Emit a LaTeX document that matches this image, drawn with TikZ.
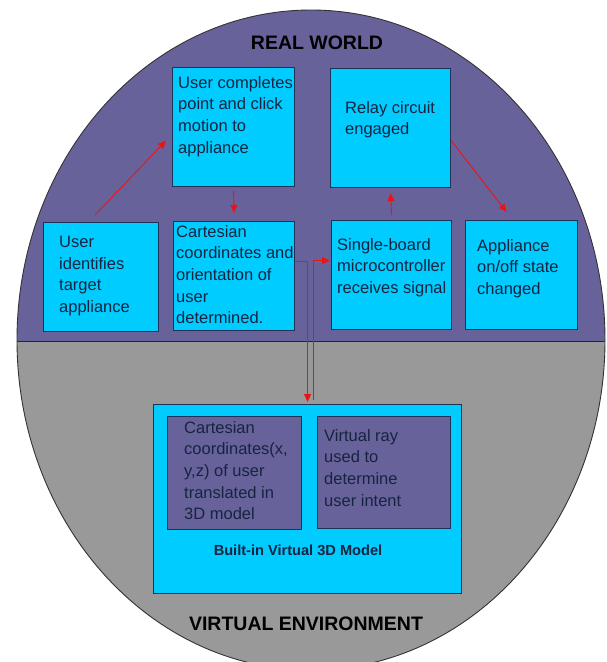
\documentclass[tikz,border=0pt]{standalone}
\usepackage{fontspec}
\setmainfont{Liberation Sans}
\usetikzlibrary{arrows.meta}
\definecolor{worldpurple}{RGB}{104,98,154}
\definecolor{envgray}{RGB}{153,153,153}
\definecolor{boxcyan}{RGB}{0,204,255}
\definecolor{boxedge}{RGB}{28,50,88}
\definecolor{txt}{RGB}{22,36,64}
\definecolor{arrred}{RGB}{235,20,20}
\tikzset{
  stepbox/.style={draw=boxedge, line width=1.2pt, fill=boxcyan, anchor=north west, inner sep=0pt},
  innerbox/.style={draw=boxedge, line width=1.2pt, fill=worldpurple, anchor=north west, inner sep=0pt},
  body/.style={anchor=north west, inner sep=0pt, align=left, text=txt,
    font=\fontsize{16.5pt}{21.7pt}\selectfont},
  title/.style={inner sep=0pt, font=\bfseries\fontsize{19.5pt}{22pt}\selectfont, text=black},
  arr/.style={draw=arrred, line width=0.9pt, -{Triangle[length=8pt,width=7pt]}},
}
\begin{document}
\begin{tikzpicture}[x=1pt,y=-1pt]
\clip (0,0) rectangle (606,662);
\fill[white] (0,0) rectangle (606,662);
% ellipse halves
\begin{scope}
  \clip (311,340) ellipse [x radius=294, y radius=330];
  \fill[worldpurple] (0,0) rectangle (606,341);
  \fill[envgray] (0,341) rectangle (606,700);
  \draw[boxedge!80!black, line width=1pt] (0,341) -- (606,341);
\end{scope}
\draw[black!80, line width=0.9pt] (311,340) ellipse [x radius=294, y radius=330];

% titles
\node[title] (rw) at (317,43) {REAL WORLD};
\node[title] (ve) at (306,624) {VIRTUAL ENVIRONMENT};

% real world boxes
\node[stepbox, minimum width=115pt, minimum height=109pt] (b1) at (43,222) {};
\node[stepbox, minimum width=122pt, minimum height=119pt] (b2) at (172,67) {};
\node[stepbox, minimum width=121pt, minimum height=109pt] (b3) at (173,221) {};
\node[stepbox, minimum width=120pt, minimum height=119pt] (b4) at (330,68) {};
\node[stepbox, minimum width=120pt, minimum height=109pt] (b5) at (331,220) {};
\node[stepbox, minimum width=112pt, minimum height=109pt] (b6) at (465,220) {};

% virtual model
\node[stepbox, minimum width=308pt, minimum height=189pt] (vm) at (153,404) {};
\node[innerbox, minimum width=134pt, minimum height=113pt] (il) at (167,416) {};
\node[innerbox, minimum width=133pt, minimum height=112pt] (ir) at (317,416) {};

% texts
\node[body] (t1) at (59,236) {User\\identifies\\target\\appliance};
\node[body] (t2) at (178,76) {User completes\\point and click\\motion to\\appliance};
\node[body] (t3) at (176,225) {Cartesian\\coordinates and\\orientation of\\user\\determined.};
\node[body] (t4) at (345,101) {Relay circuit\\engaged};
\node[body] (t5) at (337,238) {Single-board\\microcontroller\\receives signal};
\node[body] (t6) at (477,239) {Appliance\\on/off state\\changed};
\node[body] (til) at (184,421) {Cartesian\\coordinates(x,\\y,z) of user\\translated in\\3D model};
\node[body] (tir) at (324,429) {Virtual ray\\used to\\determine\\user intent};
\node[inner sep=0pt, text=txt, font=\bfseries\fontsize{14.6pt}{17pt}\selectfont] (vml) at (298,550) {Built-in Virtual 3D Model};

% connectors
\draw[arr] ([xshift=-6pt,yshift=7pt]b1.north) -- ([xshift=-6pt,yshift=-13.5pt]b2.west);
\draw[arr] ([yshift=-4pt]b2.south) -- ([yshift=8pt]b3.north);
\draw[arr] ([yshift=5pt]b5.north) -- ([yshift=-5pt]b4.south);
\draw[arr] ([yshift=-12.5pt]b4.east) -- ([xshift=-15pt,yshift=8pt]b6.north);
\draw[arr] ([yshift=15pt]b3.east) -| ([yshift=2pt]vm.north);
\draw[arr] ([xshift=6pt,yshift=4pt]vm.north) |- ([xshift=-1pt,yshift=14.5pt]b5.west);
\end{tikzpicture}
\end{document}
